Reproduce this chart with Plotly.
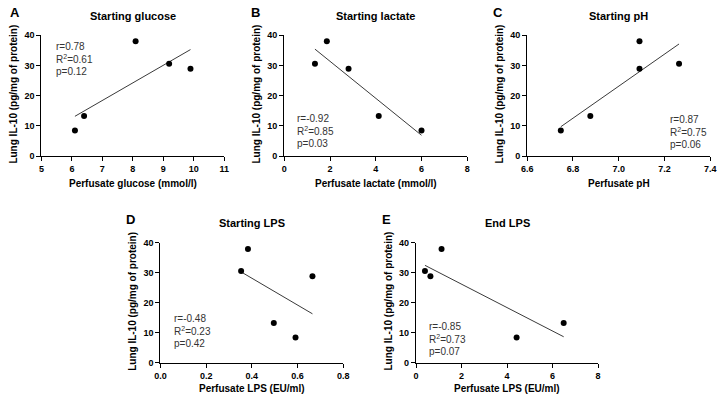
import numpy as np
import plotly.graph_objects as go

# ---------------- data ----------------
il10 = [8.5, 13.3, 38.0, 30.6, 28.9]          # Lung IL-10 (pg/mg of protein)
glucose = [6.10, 6.40, 8.09, 9.19, 9.89]      # mmol/l
lactate = [6.00, 4.13, 1.86, 1.34, 2.81]      # mmol/l
ph = [6.747, 6.876, 7.091, 7.264, 7.091]
lps_start = [0.591, 0.496, 0.383, 0.353, 0.665]  # EU/ml
lps_end = [4.42, 6.49, 1.12, 0.39, 0.63]         # EU/ml

panel_letters = ["A", "B", "C", "D", "E"]
panel_titles = ["Starting glucose", "Starting lactate", "Starting pH", "Starting LPS", "End LPS"]
x_titles = ["Perfusate glucose (mmol/l)", "Perfusate lactate (mmol/l)", "Perfusate pH",
            "Perfusate LPS (EU/ml)", "Perfusate LPS (EU/ml)"]
y_title = "Lung IL-10 (pg/mg of protein)"
stats_r = ["r=0.78", "r=-0.92", "r=0.87", "r=-0.48", "r=-0.85"]
stats_R2 = ["R<sup>2</sup>=0.61", "R<sup>2</sup>=0.85", "R<sup>2</sup>=0.75", "R<sup>2</sup>=0.23", "R<sup>2</sup>=0.73"]
stats_p = ["p=0.12", "p=0.03", "p=0.06", "p=0.42", "p=0.07"]
x_ticks = [[5, 6, 7, 8, 9, 10, 11], [0, 2, 4, 6, 8], [6.6, 6.8, 7.0, 7.2, 7.4],
           [0.0, 0.2, 0.4, 0.6, 0.8], [0, 2, 4, 6, 8]]
x_ticktext = [["5", "6", "7", "8", "9", "10", "11"], ["0", "2", "4", "6", "8"],
              ["6.6", "6.8", "7.0", "7.2", "7.4"], ["0.0", "0.2", "0.4", "0.6", "0.8"],
              ["0", "2", "4", "6", "8"]]
y_ticks = [0, 10, 20, 30, 40]
xs = [glucose, lactate, ph, lps_start, lps_end]

# ---------------- layout (pixels) ----------------
W, H = 724, 402
FONT = "Arial, Liberation Sans, sans-serif"
# plot boxes: (left, right, top, bottom)
boxes = [(36, 222, 31, 155), (283, 469, 31, 155), (530, 716, 31, 155),
         (157, 343, 244, 367), (417, 602, 244, 367)]
xtitle_gap = [28, 28, 28, 26, 26]
letter_pos = [(2, 8), (247, 8), (493, 8), (120, 220), (380, 220)]
stats_pos = [(49, 42.7), (294, 116.7), (673, 117.3), (169, 322), (428, 329.3)]
line_gap = 12.8


def px(x):
    return x / W


def py(y):
    return 1 - y / H


fig = go.Figure()
annotations = []
for i in range(5):
    n = "" if i == 0 else str(i + 1)
    xa, ya = "x" + n, "y" + n
    l, r, t, b = boxes[i]
    x = np.array(xs[i], dtype=float)
    y = np.array(il10, dtype=float)
    slope, icpt = np.polyfit(x, y, 1)
    xl = np.array([x.min(), x.max()])
    fig.add_trace(go.Scatter(x=xl, y=slope * xl + icpt, mode="lines",
                             line=dict(color="#3a3a3a", width=1),
                             xaxis=xa, yaxis=ya, showlegend=False, hoverinfo="skip"))
    fig.add_trace(go.Scatter(x=x, y=y, mode="markers",
                             marker=dict(color="black", size=6),
                             xaxis=xa, yaxis=ya, showlegend=False, cliponaxis=False))
    ax_common = dict(showline=True, linecolor="black", linewidth=1.3, ticks="outside",
                     ticklen=4, tickwidth=1.3, tickcolor="black", showgrid=False,
                     zeroline=False, ticklabeloverflow="allow",
                     tickfont=dict(family=FONT, size=9, color="black", weight="bold"))
    xr = [x_ticks[i][0], x_ticks[i][-1]]
    fig.layout["xaxis" + n] = dict(domain=[px(l), px(r)], anchor=ya, range=xr,
                                   tickvals=x_ticks[i], ticktext=x_ticktext[i], **ax_common)
    fig.layout["yaxis" + n] = dict(domain=[py(b), py(t)], anchor=xa, range=[0, 40],
                                   tickvals=y_ticks, **ax_common)
    # panel title
    annotations.append(dict(text=panel_titles[i], x=px((l + r) / 2), y=py(t - 20),
                            xref="paper", yref="paper", xanchor="center", yanchor="middle",
                            showarrow=False, font=dict(family=FONT, size=11, color="black", weight="bold")))
    # panel letter
    lx, ly = letter_pos[i]
    annotations.append(dict(text=panel_letters[i], x=px(lx), y=py(ly), xref="paper", yref="paper",
                            xanchor="left", yanchor="middle", showarrow=False,
                            font=dict(family=FONT, size=13, color="black", weight="bold")))
    # axis titles
    annotations.append(dict(text=x_titles[i], x=px((l + r) / 2), y=py(b + xtitle_gap[i]),
                            xref="paper", yref="paper", xanchor="center", yanchor="middle",
                            showarrow=False,
                            font=dict(family=FONT, size=10, color="black", weight="bold")))
    annotations.append(dict(text=y_title, x=px(l - 28), y=py((t + b) / 2 - 2), xref="paper", yref="paper",
                            xanchor="center", yanchor="middle", textangle=-90, showarrow=False,
                            font=dict(family=FONT, size=10, color="black", weight="bold")))
    # stats text
    sx, sy = stats_pos[i]
    for k, s in enumerate([stats_r[i], stats_R2[i], stats_p[i]]):
        annotations.append(dict(text=s, x=px(sx), y=py(sy + k * line_gap), xref="paper", yref="paper",
                                xanchor="left", yanchor="middle", showarrow=False,
                                font=dict(family=FONT, size=10, color="#333333")))

fig.update_layout(width=W, height=H, margin=dict(l=0, r=0, t=0, b=0),
                  paper_bgcolor="white", plot_bgcolor="white",
                  annotations=annotations, showlegend=False)
fig.write_html("out.html", config={"displayModeBar": False},
               post_script="document.body.style.margin='0';document.body.style.overflow='hidden';")
